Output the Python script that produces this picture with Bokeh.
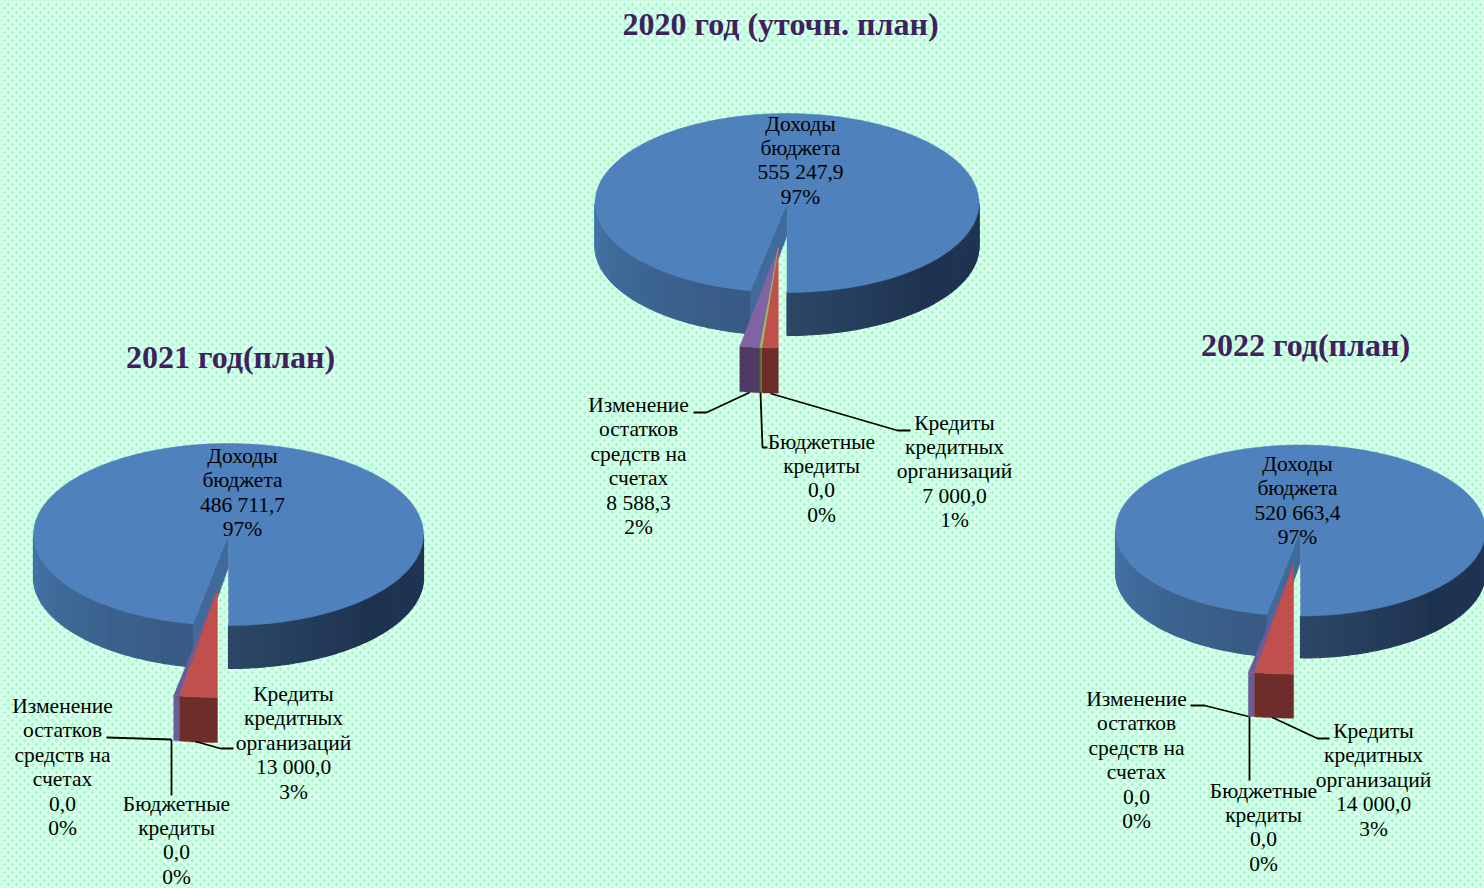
import math
from bokeh.plotting import figure
from bokeh.core.properties import value
from bokeh.embed import file_html
from bokeh.resources import INLINE

# ---- data ----
titles = ["2020 год (уточн. план)", "2021 год(план)", "2022 год(план)"]
names = [["Кредиты", "кредитных", "организаций"],
         ["Бюджетные", "кредиты"],
         ["Изменение", "остатков", "средств на", "счетах"],
         ["Доходы", "бюджета"]]
credits_org = [7000.0, 13000.0, 14000.0]
budget_credits = [0.0, 0.0, 0.0]
balance_change = [8588.3, 0.0, 0.0]
revenues = [555247.9, 486711.7, 520663.4]

# ---- layout / style ----
W, H = 1484, 888
pies = [
    dict(cx=786.5, cy=202.5, rx=192, ry=89.5, d=43, ex=0.50, sc=1.12,
         title=(780, 23),
         labels=[(954, 422), (821, 441), (638, 404.5), (800, 123)]),
    dict(cx=228, cy=534, rx=195, ry=91, d=43, ex=0.60, sc=1.19,
         title=(230, 356),
         labels=[(293, 693.5), (176, 803), (62, 705.5), (242, 455.5)]),
    dict(cx=1300, cy=530, rx=185, ry=85.5, d=42, ex=0.39, sc=1.29,
         title=(1305, 344),
         labels=[(1373, 730.5), (1263, 790), (1136, 698.5), (1297, 463.5)]),
]
leaders = [
    [(749, 392), (706, 412), (693, 412)],
    [(760, 392), (762, 447), (767, 447)],
    [(770, 393), (897, 430), (910, 430)],
    [(106, 737), (171, 739)],
    [(171, 739), (171, 795)],
    [(195, 741), (220, 748), (233, 748)],
    [(1190, 705), (1204, 705), (1248, 716)],
    [(1249, 716), (1249, 780)],
    [(1272, 717), (1317, 738), (1329, 738)],
]
TOP = "#4f81bd"
CUT = "#3f6a9a"
SLICE_TOP = ["#c0504d", "#9bbb59", "#8064a2"]
SLICE_FRONT = ["#6e2c2b", "#5f7336", "#4f3a63"]
SLIVER = "#6c5c96"
MIN_SWEEP = [0.0, 0.5, 1.5]
NOTCH_K = 1.12
LEFT_WALL = ["#4775a9", "#3d6693", "#385a83"]
RIGHT_WALL = ["#2c4767", "#1e3350", "#1f3554"]
TEXT = "#000000"
TITLE = "#40205f"


def lerp(stops, t):
    t = max(0.0, min(1.0, t)) * (len(stops) - 1)
    i = min(int(t), len(stops) - 2)
    f = t - i
    a = [int(stops[i][k:k + 2], 16) for k in (1, 3, 5)]
    b = [int(stops[i + 1][k:k + 2], 16) for k in (1, 3, 5)]
    return "#%02x%02x%02x" % tuple(round(a[k] + (b[k] - a[k]) * f) for k in range(3))


def fmt(v):
    whole, frac = f"{v:.1f}".split(".")
    out = ""
    while len(whole) > 3:
        out = " " + whole[-3:] + out
        whole = whole[:-3]
    return whole + out + "," + frac


def pt(pie, th, r=1.0):
    a = math.radians(th)
    return pie["cx"] + pie["rx"] * r * math.sin(a), pie["cy"] - pie["ry"] * r * math.cos(a)


p = figure(width=W, height=H, x_range=(0, W), y_range=(H, 0),
           output_backend="svg", toolbar_location=None, min_border=0,
           outline_line_color=None, background_fill_color="#aafbcf")
p.axis.visible = False
p.grid.visible = False

p.quad(left=[0], right=[W], top=[0], bottom=[H], fill_color="#aafbcf", line_color=None,
       hatch_pattern="diagonal_cross", hatch_color="#e6fff2", hatch_weight=2.2, hatch_scale=8)

for idx, pie in enumerate(pies):
    vals = [credits_org[idx], budget_credits[idx], balance_change[idx], revenues[idx]]
    total = sum(vals)
    small = vals[:3]
    sweeps = [v / total * 360 for v in small]
    sweeps[2] = max(sweeps[2], MIN_SWEEP[2])
    sweeps[1] = MIN_SWEEP[1] if vals[2] > 0 else 0.0
    notch = sum(small) / total * 360 * NOTCH_K
    main_start = 180 + notch

    # outer walls
    xs, ys, cs = [], [], []
    N = 60
    for a, b, stops in [(270, main_start, LEFT_WALL), (90, 180, RIGHT_WALL[::-1])]:
        for i in range(N):
            t0, t1 = a + (b - a) * i / N, a + (b - a) * (i + 1) / N
            x0, y0 = pt(pie, t0)
            x1, y1 = pt(pie, t1)
            xs.append([x0, x1, x1, x0])
            ys.append([y0, y1, y1 + pie["d"], y0 + pie["d"]])
            cs.append(lerp(stops, i / (N - 1)))
    p.patches(xs, ys, fill_color=cs, line_color=cs, line_width=1.2)

    # cut face seen through the gap
    ox, oy = pt(pie, main_start)
    cx, cy = pie["cx"], pie["cy"]
    p.patch([cx, ox, ox, cx], [cy, oy, oy + pie["d"], cy + pie["d"] * 0.76],
            fill_color=CUT, line_color=CUT, line_width=0.5)

    # top of the main slice
    ang = [main_start + (540 - main_start) * i / 240 for i in range(241)]
    tx = [cx] + [pt(pie, a)[0] for a in ang]
    ty = [cy] + [pt(pie, a)[1] for a in ang]
    p.patch(tx, ty, fill_color=TOP, line_color=TOP, line_width=0.5)

    # exploded small slices share one apex
    mid = math.radians(sum(sweeps) / 2)
    ax = cx - pie["rx"] * pie["ex"] * math.sin(mid)
    ay = cy + pie["ry"] * pie["ex"]
    dd = pie["d"] * 1.05
    start = 180.0
    spans = []
    for s in sweeps:
        spans.append((start, start + s))
        start += s
    for k in (2, 0, 1):
        a, b = spans[k]
        if b <= a:
            continue
        arc = [a + (b - a) * i / 6 for i in range(7)]
        ex = [ax + pie["rx"] * pie["sc"] * math.sin(math.radians(t)) for t in arc]
        ey = [ay - pie["ry"] * pie["sc"] * math.cos(math.radians(t)) for t in arc]
        front = SLICE_FRONT[k] if vals[k] > 0 or k == 1 else SLIVER
        p.patch(ex + ex[::-1], ey + [y + dd for y in ey[::-1]],
                fill_color=front, line_color=front, line_width=0.4)
        top = SLICE_TOP[k] if vals[k] > 0 or k == 1 else SLIVER
        p.patch([ax] + ex, [ay] + ey, fill_color=top, line_color=top, line_width=0.4)

    # labels
    for k, (lx, ly) in enumerate(pie["labels"]):
        lines = names[k] + [fmt(vals[k]), f"{round(vals[k] / total * 100)}%"]
        p.text([lx] * len(lines), [ly + i * 24.4 for i in range(len(lines))], text=lines,
               text_font=value("Liberation Serif"), text_font_size="21.5px", text_color=TEXT,
               text_align="center", text_baseline="middle")

    p.text([pie["title"][0]], [pie["title"][1]], text=[titles[idx]],
           text_font=value("Liberation Serif"), text_font_style="bold",
           text_font_size="32px", text_color=TITLE,
           text_align="center", text_baseline="middle")

for seg in leaders:
    p.line([q[0] for q in seg], [q[1] for q in seg], line_color="black", line_width=1.8)

open("out.html", "w").write(file_html(p, INLINE))
